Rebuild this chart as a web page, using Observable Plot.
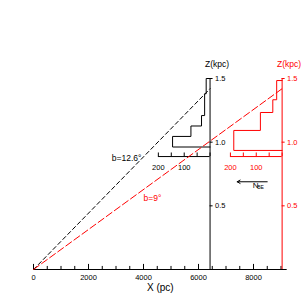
<!DOCTYPE html>
<html><head><meta charset="utf-8">
<script src="https://cdn.jsdelivr.net/npm/d3@7"></script>
<script src="https://cdn.jsdelivr.net/npm/@observablehq/plot@0.6"></script>
<style>body{margin:0;background:#fff} svg{display:block}</style>
</head><body><div id="chart"></div>
<script>
// X axis ticks (pc)
const xTicks = [0, 2000, 4000, 6000, 8000];
const xMinor = [500, 1000, 1500, 2500, 3000, 3500, 4500, 5000, 5500, 6500, 7000, 7500, 8500, 9000];
// Z axis ticks (kpc)
const zTicks = [0.5, 1.0, 1.5];
// N axis ticks
const nTicks = [0, 50, 100, 150, 200];
const nLabels = [200, 100];
// sight lines
const lineNames = ["b=12.6°", "b=9°"];
const lineEndX = [6420, 9040];
const lineEndZ = [1.42, 1.42];
const lineColors = ["black", "red"];
// histograms of N vs Z (bin edges in kpc, counts)
const blackEdges = [0.962, 1.045, 1.127, 1.209, 1.38, 1.5];
const blackCounts = [145, 74, 33, 21, 15];
const redEdges = [0.935, 1.092, 1.233, 1.333, 1.484];
const redCounts = [187, 84, 36, 21];

const K = 9.4;          // pc per count on inset N axes
const nAxisZ = 0.887;   // level of inset N axes

function histPts(x0, edges, counts) {
  const pts = [{x: x0, z: edges[0]}];
  counts.forEach((c, i) => {
    pts.push({x: x0 - c * K, z: edges[i]});
    pts.push({x: x0 - c * K, z: edges[i + 1]});
  });
  pts.push({x: x0, z: edges[edges.length - 1]});
  return pts;
}

const marks = [];
// x axis
marks.push(Plot.ruleY([0], {x1: 0, x2: 9225, stroke: "black"}));
marks.push(Plot.ruleX(xTicks, {x: d => d, y1: 0, y2: 0.04, stroke: "black"}));
marks.push(Plot.ruleX(xMinor, {x: d => d, y1: 0, y2: 0.024, stroke: "black"}));
marks.push(Plot.text(xTicks, {x: d => d, y: 0, dy: 8, text: d => String(d), fontSize: 7.5}));
marks.push(Plot.text(["X (pc)"], {x: 4612, y: 0, dy: 18, text: d => d, fontSize: 10}));

const hists = [[blackEdges, blackCounts], [redEdges, redCounts]];
lineEndX.forEach((ax, i) => {
  const col = lineColors[i];
  // sight line
  marks.push(Plot.line([{x: 0, z: 0}, {x: ax, z: lineEndZ[i]}],
    {x: "x", y: "z", stroke: col, strokeDasharray: i === 0 ? "4,3" : "7,3", strokeWidth: 1}));
  // vertical Z axis
  marks.push(Plot.ruleX([ax], {x: d => d, y1: 0, y2: 1.5, stroke: col}));
  marks.push(Plot.ruleY(zTicks, {y: d => d, x1: ax, x2: ax + 110, stroke: col}));
  marks.push(Plot.text(zTicks, {x: ax, y: d => d, dx: 5, textAnchor: "start", text: d => d.toFixed(1), fill: col, fontSize: 7.5}));
  marks.push(Plot.text(["Z(kpc)"], {x: ax, y: 1.5, dx: 7, dy: -14, text: d => d, fill: col, fontSize: 8.5}));
  // histogram
  marks.push(Plot.line(histPts(ax, hists[i][0], hists[i][1]), {x: "x", y: "z", stroke: col, strokeWidth: 1}));
  // inset N axis
  marks.push(Plot.ruleY([nAxisZ], {x1: ax - 200 * K, x2: ax, stroke: col}));
  marks.push(Plot.ruleX(nTicks, {x: d => ax - d * K, y1: nAxisZ, y2: nAxisZ + 0.028, stroke: col}));
  marks.push(Plot.text(nLabels, {x: d => ax - d * K, y: nAxisZ, dy: 11, text: d => String(d), fill: col, fontSize: 7.5}));
});

// line labels
marks.push(Plot.text([lineNames[0]], {x: 3927, y: 0.876, text: d => d, textAnchor: "end", fill: "black", fontSize: 8.5}));
marks.push(Plot.text([lineNames[1]], {x: 4000, y: 0.56, text: d => d, textAnchor: "start", fill: "red", fontSize: 8.5}));
// N arrow
marks.push(Plot.arrow([{x1: 8498, y1: 0.689, x2: 7407, y2: 0.689}],
  {x1: "x1", y1: "y1", x2: "x2", y2: "y2", stroke: "black", strokeWidth: 1, headLength: 5}));
marks.push(Plot.text(["N"], {x: 8073, y: 0.663, text: d => d, fontSize: 8}));
marks.push(Plot.text(["BE"], {x: 8255, y: 0.643, text: d => d, fontSize: 5}));

const chart = Plot.plot({
  width: 303, height: 303,
  marginLeft: 33, marginRight: 16.3, marginTop: 78, marginBottom: 34,
  x: {domain: [0, 9225], axis: null},
  y: {domain: [0, 1.5], axis: null},
  style: {fontFamily: "Liberation Sans", fontSize: "7.5px", background: "white"},
  marks
});
document.getElementById("chart").appendChild(chart);
</script>
</body></html>
